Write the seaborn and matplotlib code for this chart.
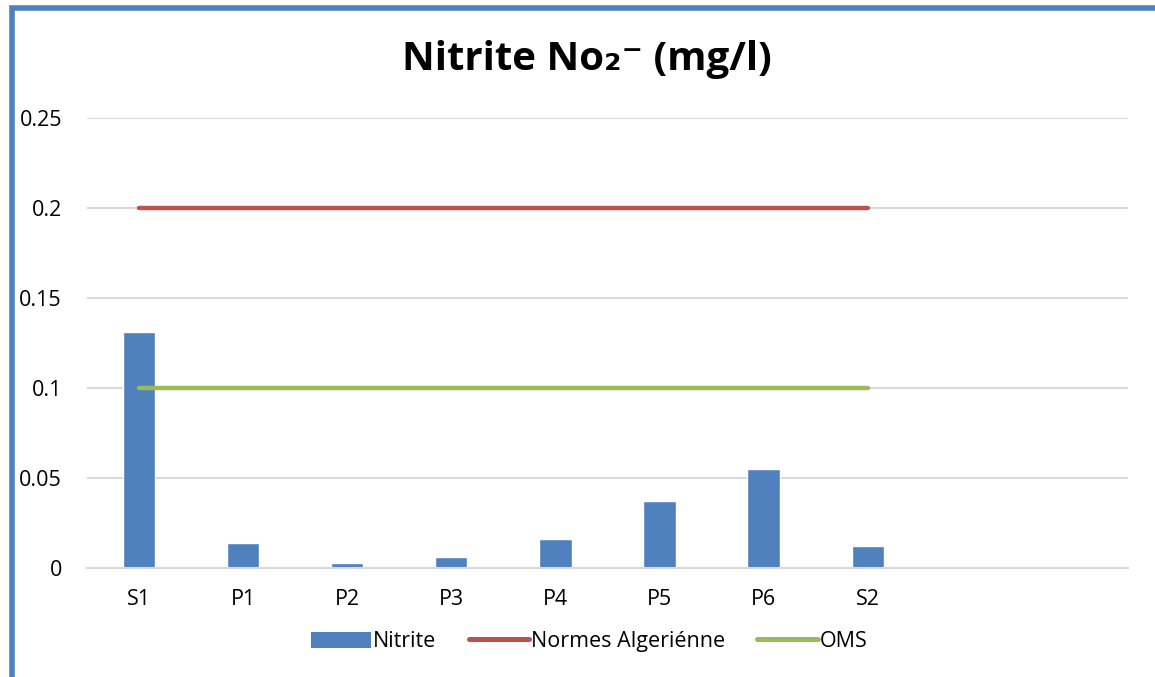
import numpy as np
import matplotlib
matplotlib.use("Agg")
import matplotlib.pyplot as plt
import seaborn as sns
from matplotlib.patches import Rectangle
from matplotlib.lines import Line2D
from matplotlib.patches import Patch

sites = ["S1", "P1", "P2", "P3", "P4", "P5", "P6", "S2"]
nitrite = [0.131, 0.014, 0.003, 0.006, 0.016, 0.037, 0.055, 0.012]
normes_algeriennes = [0.2] * len(sites)
oms = [0.1] * len(sites)
yticks = [0, 0.05, 0.1, 0.15, 0.2, 0.25]
ytick_labels = ["0", "0.05", "0.1", "0.15", "0.2", "0.25"]

blue = "#4F81BD"
red = "#C0504D"
green = "#9BBB59"
grid = "#D9D9D9"

sns.set_theme(style="white")
plt.rcParams["font.family"] = ["Open Sans", "DejaVu Sans"]
plt.rcParams["text.color"] = "black"
plt.rcParams["xtick.color"] = "black"
plt.rcParams["ytick.color"] = "black"

fig = plt.figure(figsize=(11.55, 6.77), dpi=100)
ax = fig.add_axes([0.0753, 0.161, 0.9013, 0.6647])

pos = np.arange(len(sites))
sns.barplot(x=pos, y=nitrite, color=blue, width=0.31, saturation=1,
            native_scale=True, ax=ax)
sns.lineplot(x=pos, y=normes_algeriennes, color=red, linewidth=3.2,
             sort=False, ax=ax, solid_capstyle="round")
sns.lineplot(x=pos, y=oms, color=green, linewidth=3.2,
             sort=False, ax=ax, solid_capstyle="round")

ax.set_xlim(-0.5, 9.5)
ax.set_ylim(0, 0.25)
ax.set_xticks(pos)
ax.set_xticklabels(sites, fontsize=15.5)
ax.set_yticks(yticks)
ax.set_yticklabels(ytick_labels, fontsize=15.5)
ax.tick_params(axis="x", length=0, pad=15)
ax.tick_params(axis="y", length=0, pad=18)
ax.yaxis.grid(True, color=grid, linewidth=1.5)
ax.set_axisbelow(True)
for side in ["left", "right", "top"]:
    ax.spines[side].set_visible(False)
ax.spines["bottom"].set_color(grid)
ax.spines["bottom"].set_linewidth(1.5)
ax.set_xlabel("")
ax.set_ylabel("")

fig.text(0.508, 0.912, "Nitrite No₂⁻ (mg/l)", ha="center", va="center",
         fontsize=29, fontweight="bold")

handles = [
    Patch(facecolor=blue, edgecolor="none"),
    Line2D([0], [0], color=red, linewidth=3.6, solid_capstyle="round"),
    Line2D([0], [0], color=green, linewidth=3.6, solid_capstyle="round"),
]
fig.legend(handles, ["Nitrite", "Normes Algeriénne", "OMS"], ncol=3,
           loc="center", bbox_to_anchor=(0.51, 0.052), frameon=False,
           fontsize=15.5, handlelength=2.8, handleheight=0.8,
           handletextpad=0.1, columnspacing=1.5)

# chart frame
fig.patches.append(Rectangle((12 / 1155, -0.1), 1.2, (1 - 8 / 677) + 0.1,
                             transform=fig.transFigure, fill=False,
                             edgecolor=blue, linewidth=4, zorder=10))

fig.savefig("out.png", dpi=100)
